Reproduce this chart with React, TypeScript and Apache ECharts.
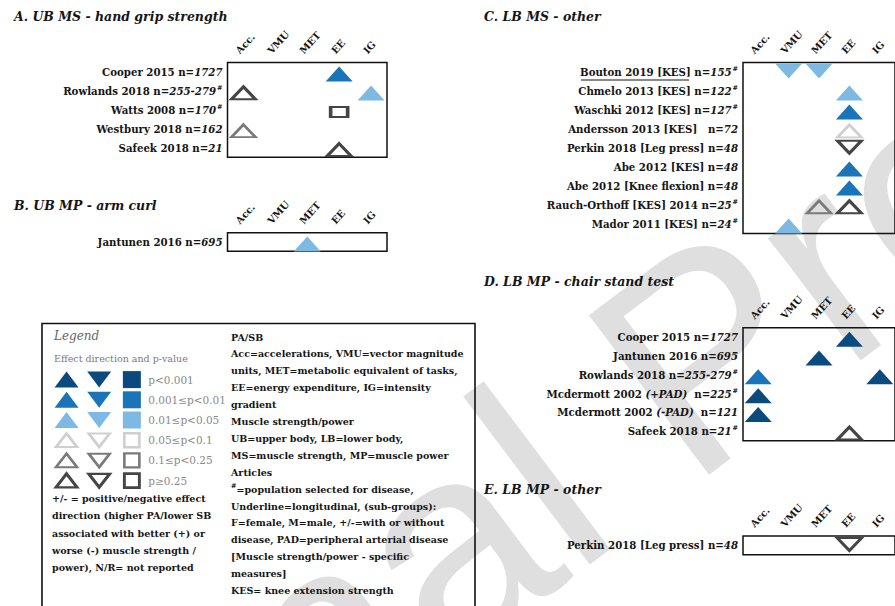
import React, { useEffect, useRef } from 'react';
import * as echarts from 'echarts';

// ---------------- data ----------------
const columns = ['Acc.', 'VMU', 'MET', 'EE', 'IG'];

// [column, row index, direction, significance level 1..6]
const rowsA = ['Cooper 2015', 'Rowlands 2018', 'Watts 2008', 'Westbury 2018', 'Safeek 2018'];
const nA = ['1727', '255-279', '170', '162', '21'];
const hashA = [0, 1, 1, 0, 0];
const marksA: [string, number, string, number][] = [
  ['EE', 0, 'up', 2],
  ['Acc.', 1, 'up', 6],
  ['IG', 1, 'up', 3],
  ['EE', 2, 'square', 6],
  ['Acc.', 3, 'up', 5],
  ['EE', 4, 'up', 6],
];

const rowsB = ['Jantunen 2016'];
const nB = ['695'];
const hashB = [0];
const marksB: [string, number, string, number][] = [['MET', 0, 'up', 3]];

const rowsC = [
  'Bouton 2019 [KES]',
  'Chmelo 2013 [KES]',
  'Waschki 2012 [KES]',
  'Andersson 2013 [KES]  ',
  'Perkin 2018 [Leg press]',
  'Abe 2012 [KES]',
  'Abe 2012 [Knee flexion]',
  'Rauch-Orthoff [KES] 2014',
  'Mador 2011 [KES]',
];
const nC = ['155', '122', '127', '72', '48', '48', '48', '25', '24'];
const hashC = [1, 1, 1, 0, 0, 0, 0, 1, 1];
const marksC: [string, number, string, number][] = [
  ['VMU', 0, 'down', 3],
  ['MET', 0, 'down', 3],
  ['EE', 1, 'up', 3],
  ['EE', 2, 'up', 2],
  ['EE', 3, 'up', 4],
  ['EE', 4, 'down', 6],
  ['EE', 5, 'up', 2],
  ['EE', 6, 'up', 2],
  ['MET', 7, 'up', 5],
  ['EE', 7, 'up', 6],
  ['VMU', 8, 'up', 3],
];

const rowsD = [
  'Cooper 2015',
  'Jantunen 2016',
  'Rowlands 2018',
  'Mcdermott 2002 (+PAD) ',
  'Mcdermott 2002 (-PAD) ',
  'Safeek 2018',
];
const nD = ['1727', '695', '255-279', '225', '121', '21'];
const hashD = [0, 0, 1, 1, 0, 1];
const marksD: [string, number, string, number][] = [
  ['EE', 0, 'up', 1],
  ['MET', 1, 'up', 1],
  ['Acc.', 2, 'up', 2],
  ['IG', 2, 'up', 1],
  ['Acc.', 3, 'up', 1],
  ['Acc.', 4, 'up', 1],
  ['EE', 5, 'up', 6],
];

const rowsE = ['Perkin 2018 [Leg press]'];
const nE = ['48'];
const hashE = [0];
const marksE: [string, number, string, number][] = [['EE', 0, 'down', 6]];

const legendKinds = ['up', 'down', 'square'];
const legendLevels = ['p<0.001', '0.001≤p<0.01', '0.01≤p<0.05', '0.05≤p<0.1', '0.1≤p<0.25', 'p≥0.25'];

const legendLeftText = [
  '+/- = positive/negative effect',
  'direction (higher PA/lower SB',
  'associated with better (+) or',
  'worse (-) muscle strength /',
  'power), N/R= not reported',
];
const legendRightText = [
  'PA/SB',
  'Acc=accelerations, VMU=vector magnitude',
  'units, MET=metabolic equivalent of tasks,',
  'EE=energy expenditure, IG=intensity',
  'gradient',
  'Muscle strength/power',
  'UB=upper body, LB=lower body,',
  'MS=muscle strength, MP=muscle power',
  'Articles',
  '{h|#}{t|=population selected for disease,}',
  'Underline=longitudinal, (sub-groups):',
  'F=female, M=male, +/-=with or without',
  'disease, PAD=peripheral arterial disease',
  '[Muscle strength/power - specific',
  'measures]',
  'KES= knee extension strength',
];

// ---------------- styles ----------------
const SERIF = 'DejaVu Serif';
const fillColor: Record<number, string> = { 1: '#0b4a7e', 2: '#1a74b8', 3: '#7db9e2' };
const lineColor: Record<number, string> = { 4: '#cfcfcf', 5: '#7a7a7a', 6: '#454545' };

function symbolItem(col: any, row: any, dir: string, lvl: number, legend = false) {
  const filled = lvl <= 3;
  const isSq = dir === 'square';
  let size: number[];
  if (isSq) {
    size = legend ? (filled ? [18, 17] : [15, 14]) : filled ? [20, 13] : [17, 10];
  } else {
    size = legend ? (filled ? [24, 16] : [21, 13.5]) : filled ? [27, 15] : [24, 12.5];
  }
  return {
    value: [col, row],
    symbol: isSq ? 'rect' : 'triangle',
    symbolRotate: dir === 'down' ? 180 : 0,
    symbolSize: size,
    symbolOffset: legend ? [0, 0] : [0, dir === 'down' ? -1 : 2],
    itemStyle: filled
      ? { color: fillColor[lvl], opacity: 1 }
      : { color: 'rgba(255,255,255,0)', borderColor: lineColor[lvl], borderWidth: lvl === 6 ? 2.8 : 2.5, opacity: 1 },
  };
}

function rowFormatter(rows: string[], ns: string[], hashes: number[]) {
  return (_v: string, index: number) => {
    const name = rows[index];
    const m = name.match(/^(.*)\((.*)\)(.*)$/);
    let s = m ? `{a|${m[1]}}{i|(${m[2]})}{a|${m[3]} n=}` : `{a|${name} n=}`;
    s += `{b|${ns[index]}}`;
    if (hashes[index]) s += '{h|#}';
    return s;
  };
}

const labelRich = {
  a: { fontFamily: SERIF, fontWeight: 'bold', fontSize: 10.2, color: '#151515', lineHeight: 13 },
  b: { fontFamily: SERIF, fontWeight: 'bold', fontStyle: 'italic', fontSize: 10.2, color: '#151515', lineHeight: 13 },
  i: { fontFamily: SERIF, fontWeight: 'bold', fontStyle: 'italic', fontSize: 10.2, color: '#151515', lineHeight: 13 },
  h: { fontFamily: SERIF, fontWeight: 'bold', fontSize: 6.5, color: '#151515', verticalAlign: 'top', lineHeight: 13, padding: [0, 0, 0, 1] },
};

const panels = [
  { rows: rowsA, n: nA, hash: hashA, marks: marksA, grid: { left: 227.5, top: 62.6, width: 159.5, height: 94.7 } },
  { rows: rowsB, n: nB, hash: hashB, marks: marksB, grid: { left: 227.5, top: 232.7, width: 159.5, height: 18.6 } },
  { rows: rowsC, n: nC, hash: hashC, marks: marksC, grid: { left: 743, top: 62.6, width: 159.5, height: 170.9 } },
  { rows: rowsD, n: nD, hash: hashD, marks: marksD, grid: { left: 743, top: 327.8, width: 159.5, height: 112.9 } },
  { rows: rowsE, n: nE, hash: hashE, marks: marksE, grid: { left: 743, top: 536, width: 159.5, height: 18.7 } },
];

function buildOption() {
  const grid: any[] = [];
  const xAxis: any[] = [];
  const yAxis: any[] = [];
  const series: any[] = [];

  panels.forEach((p, i) => {
    grid.push({ ...p.grid, show: true, borderColor: '#111', borderWidth: 1.5, backgroundColor: 'transparent' });
    xAxis.push({
      gridIndex: i,
      type: 'category',
      data: columns,
      position: 'top',
      axisLine: { show: false },
      axisTick: { show: false },
      splitLine: { show: false },
      axisLabel: {
        interval: 0,
        rotate: -48,
        margin: 5,
        align: 'left',
        verticalAlign: 'bottom',
        padding: [0, 0, 3, 0],
        fontFamily: SERIF,
        fontWeight: 'bold',
        fontSize: 9.8,
        color: '#151515',
      },
    });
    yAxis.push({
      gridIndex: i,
      type: 'category',
      inverse: true,
      data: p.rows,
      axisLine: { show: false },
      axisTick: { show: false },
      splitLine: { show: false },
      axisLabel: { interval: 0, margin: 5, formatter: rowFormatter(p.rows, p.n, p.hash), rich: labelRich },
    });
    series.push({
      type: 'scatter',
      xAxisIndex: i,
      yAxisIndex: i,
      data: p.marks.map((m) => symbolItem(m[0], m[1], m[2], m[3])),
      itemStyle: { opacity: 1 },
      z: 3,
    });
  });

  // legend key as its own small grid
  const li = panels.length;
  grid.push({ left: 50.2, top: 369.5, width: 98, height: 121.2, show: false });
  xAxis.push({ gridIndex: li, type: 'category', data: legendKinds, show: false });
  yAxis.push({
    gridIndex: li,
    type: 'category',
    inverse: true,
    position: 'right',
    data: legendLevels,
    axisLine: { show: false },
    axisTick: { show: false },
    splitLine: { show: false },
    axisLabel: { interval: 0, margin: 0, fontFamily: SERIF, fontSize: 10.5, color: '#8a8a8a' },
  });
  const legendData: any[] = [];
  legendLevels.forEach((lv, li2) => {
    legendKinds.forEach((k) => legendData.push(symbolItem(k, lv, k, li2 + 1, true)));
  });
  series.push({ type: 'scatter', xAxisIndex: li, yAxisIndex: li, data: legendData, itemStyle: { opacity: 1 }, z: 3 });

  const titleStyle = (text: string) => ({
    text,
    fontFamily: SERIF,
    fontWeight: 'bold',
    fontStyle: 'italic',
    fontSize: 12.5,
    fill: '#151515',
    verticalAlign: 'middle',
    textVerticalAlign: 'middle',
  });

  const graphic: any[] = [
    {
      type: 'text',
      x: 700,
      y: 355,
      rotation: (37 * Math.PI) / 180,
      z: -100,
      silent: true,
      style: {
        text: 'Journal Pre-proof',
        fontFamily: 'Liberation Sans',
        fontSize: 290,
        fill: '#dfdfdf',
        align: 'center',
        textAlign: 'center',
        verticalAlign: 'middle',
        textVerticalAlign: 'middle',
      },
    },
    { type: 'text', x: 14, y: 16, style: titleStyle('A. UB MS - hand grip strength') },
    { type: 'text', x: 14, y: 205, style: titleStyle('B. UB MP - arm curl') },
    { type: 'text', x: 484, y: 16, style: titleStyle('C. LB MS - other') },
    { type: 'text', x: 484, y: 281, style: titleStyle('D. LB MP - chair stand test') },
    { type: 'text', x: 484, y: 489, style: titleStyle('E. LB MP - other') },
    {
      type: 'rect',
      shape: { x: 42, y: 323.5, width: 433, height: 300 },
      style: { fill: 'none', stroke: '#111', lineWidth: 1.6 },
    },
    {
      type: 'text',
      x: 54,
      y: 336,
      style: { text: 'Legend', fontFamily: SERIF, fontStyle: 'italic', fontSize: 12, fill: '#666', verticalAlign: 'middle', textVerticalAlign: 'middle' },
    },
    {
      type: 'text',
      x: 54,
      y: 358.7,
      style: { text: 'Effect direction and p-value', fontFamily: SERIF, fontSize: 9.5, fill: '#7a7a7a', verticalAlign: 'middle', textVerticalAlign: 'middle' },
    },
    {
      type: 'line',
      shape: { x1: 581, y1: 80, x2: 689, y2: 80 },
      style: { stroke: '#151515', lineWidth: 1 },
    },
  ];

  legendLeftText.forEach((t, k) => {
    graphic.push({
      type: 'text',
      x: 52,
      y: 498.6 + k * 17.2,
      style: { text: t, fontFamily: SERIF, fontWeight: 'bold', fontSize: 9.5, fill: '#151515', verticalAlign: 'middle', textVerticalAlign: 'middle' },
    });
  });
  legendRightText.forEach((t, k) => {
    const isRich = t.startsWith('{h|');
    graphic.push({
      type: 'text',
      x: 231,
      y: 337 + k * 16.9,
      style: {
        text: t,
        fontFamily: SERIF,
        fontWeight: 'bold',
        fontSize: 9.5,
        fill: '#151515',
        verticalAlign: 'middle',
        textVerticalAlign: 'middle',
        rich: isRich
          ? {
              h: { fontFamily: SERIF, fontWeight: 'bold', fontSize: 6.5, fill: '#151515', verticalAlign: 'top', lineHeight: 13 },
              t: { fontFamily: SERIF, fontWeight: 'bold', fontSize: 9.5, fill: '#151515', lineHeight: 13 },
            }
          : undefined,
      },
    });
  });

  return {
    animation: false,
    backgroundColor: '#ffffff',
    grid,
    xAxis,
    yAxis,
    series,
    graphic,
  };
}

export default function App() {
  const ref = useRef<HTMLDivElement>(null);
  useEffect(() => {
    if (!ref.current) return;
    const chart = echarts.init(ref.current, null, { renderer: 'svg' });
    chart.setOption(buildOption() as any);
    return () => chart.dispose();
  }, []);
  return (
    <div
      ref={ref}
      style={{ position: 'fixed', left: 0, top: 0, width: 895, height: 606, background: '#fff' }}
    />
  );
}
